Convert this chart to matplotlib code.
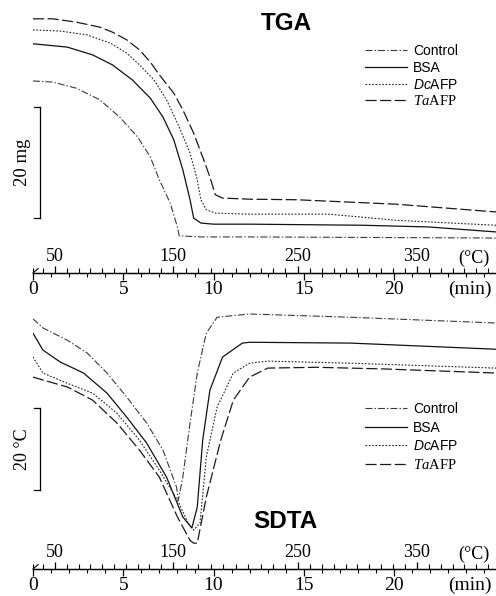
import matplotlib
matplotlib.use('Agg')
import numpy as np
import matplotlib.pyplot as plt
from matplotlib.ticker import FixedLocator, MultipleLocator

plt.rcParams['font.family'] = 'Liberation Serif'
plt.rcParams['mathtext.fontset'] = 'custom'
plt.rcParams['mathtext.it'] = 'Liberation Serif:italic'
plt.rcParams['mathtext.sf'] = 'Liberation Sans:italic'
plt.rcParams['mathtext.rm'] = 'Liberation Serif'
plt.rcParams['lines.scale_dashes'] = False

W, H = 496, 596

# heating programme (time in min -> temperature in degC)
CAL_MIN = [0.0, 1.22, 7.76, 14.68, 21.27, 26.0]
CAL_DEGC = [31.3, 50, 150, 250, 350, 422]
T_END = 25.65  # min at the right edge

# TGA: time (min) and mass (mg above the axis line)
tga_t_control = [0, 1.1, 2.4, 3.7, 4.8, 5.8, 6.5, 7.0, 7.6, 8.0, 8.1, 9.3, 12.0, 25.65]
tga_control = [34.6, 34.4, 33.3, 31.2, 28.1, 24.5, 20.9, 16.8, 12.6, 8.3, 6.7, 6.5, 6.5, 6.3]

tga_t_bsa = [0, 1.9, 3.3, 4.4, 5.5, 6.5, 7.2, 7.8, 8.3, 8.7, 8.9, 9.3, 10.0, 12.0, 18.3, 21.9, 25.65]
tga_bsa = [41.3, 40.7, 39.3, 37.5, 34.8, 31.5, 28.1, 24.0, 18.6, 13.2, 9.9, 9.0, 8.8, 8.8, 8.6, 8.3, 7.4]

tga_t_dc = [0, 1.5, 3.0, 4.3, 5.2, 5.9, 6.7, 7.4, 8.1, 8.7, 9.1, 9.3, 9.6, 10.1, 12.0, 16.4, 20.1, 25.65]
tga_dc = [43.8, 43.6, 42.9, 41.4, 39.6, 37.5, 34.8, 31.2, 26.3, 21.6, 16.8, 13.2, 11.4, 10.8, 10.6, 10.6, 9.5, 8.6]

tga_t_ta = [0, 1.1, 2.4, 3.7, 4.4, 5.2, 5.9, 6.5, 7.0, 7.8, 8.3, 8.9, 9.4, 9.8, 10.1, 10.5, 12.0, 14.6, 20.1, 25.65]
tga_ta = [45.8, 45.8, 45.2, 44.3, 43.4, 42.0, 40.2, 38.0, 35.7, 32.4, 29.4, 25.2, 20.9, 17.3, 14.1, 13.5, 13.3, 13.2, 12.4, 11.0]

# SDTA: time (min) and temperature difference (degC above the axis line)
sdta_t_control = [0, 0.55, 1.9, 3.0, 4.1, 5.2, 6.3, 7.2, 7.95, 8.05, 8.3, 8.7, 9.1, 9.6, 10.2, 12.0, 17.6, 25.65]
sdta_control = [61.0, 58.8, 55.8, 52.7, 47.8, 41.9, 35.6, 29.0, 20.0, 16.8, 22.4, 35.6, 47.8, 57.5, 61.4, 62.2, 61.4, 60.0]

sdta_t_bsa = [0, 0.55, 1.5, 2.8, 4.1, 5.2, 6.3, 7.4, 8.3, 8.8, 9.1, 9.4, 9.8, 10.5, 11.6, 12.0, 17.6, 25.65]
sdta_bsa = [57.5, 53.4, 50.5, 47.8, 42.9, 37.0, 30.7, 22.4, 12.7, 10.0, 15.1, 31.4, 43.6, 51.7, 55.1, 55.3, 55.1, 53.6]

sdta_t_dc = [0, 0.55, 1.9, 3.3, 4.65, 5.9, 7.0, 8.0, 8.6, 8.9, 9.25, 9.6, 10.2, 11.1, 12.0, 13.0, 17.6, 25.65]
sdta_dc = [51.7, 47.8, 45.3, 42.9, 38.0, 31.4, 24.1, 16.8, 11.2, 9.5, 11.2, 27.3, 39.5, 47.8, 50.2, 50.7, 50.2, 49.0]

sdta_t_ta = [0, 1.9, 3.3, 4.65, 5.9, 7.0, 8.0, 8.7, 8.9, 9.1, 9.6, 10.4, 11.1, 12.0, 13.0, 15.7, 19.4, 25.65]
sdta_ta = [46.8, 44.4, 41.2, 35.6, 29.0, 22.4, 12.7, 7.0, 6.3, 6.3, 17.5, 31.4, 41.2, 46.8, 49.0, 49.2, 48.8, 47.8]

labels = ['Control', 'BSA', r'$\mathsf{Dc}$AFP', r'$\mathit{Ta}$AFP']
styles = [
    dict(color='#3a3a3a', lw=0.8, ls=(0, (5, 1.5, 1, 1.5))),
    dict(color='#111111', lw=0.9, ls='-'),
    dict(color='#222222', lw=0.8, ls=(0, (1.2, 1.2))),
    dict(color='#1a1a1a', lw=0.9, ls=(0, (8, 2.5))),
]


def t_to_temp(t):
    return np.interp(t, CAL_MIN, CAL_DEGC)


def temp_to_t(temp):
    return np.interp(temp, CAL_DEGC, CAL_MIN)


def setup_panel(ax, ymin, ymax):
    ax.set_xlim(0, T_END)
    ax.set_ylim(ymin, ymax)
    for side in ['left', 'right', 'top']:
        ax.spines[side].set_visible(False)
    ax.spines['bottom'].set_linewidth(0.9)
    ax.set_yticks([])
    ax.xaxis.set_major_locator(FixedLocator([0, 5, 10, 15, 20]))
    ax.xaxis.set_minor_locator(MultipleLocator(1))
    ax.tick_params(axis='x', which='major', direction='out', length=5, width=0.9,
                   labelsize=14, pad=1)
    ax.tick_params(axis='x', which='minor', direction='out', length=3, width=0.8)
    ax.patch.set_visible(False)

    sec = ax.secondary_xaxis(0.0, functions=(t_to_temp, temp_to_t))
    sec.set_alignment('top')
    sec.xaxis.set_major_locator(FixedLocator([50, 150, 250, 350]))
    sec.xaxis.set_minor_locator(MultipleLocator(10))
    sec.tick_params(axis='x', which='major', direction='out', length=5, width=0.9,
                    labelsize=13, pad=1)
    sec.tick_params(axis='x', which='minor', direction='out', length=3.5, width=0.8)
    sec.spines['top'].set_linewidth(0.9)

    # small slanted mark at the origin of the double axis
    ax.plot([0, 0.28], [0, 0.016], transform=ax.get_xaxis_transform(),
            color='black', lw=0.8, clip_on=False)

    ax.annotate('(°C)', xy=(24.4, 0), xycoords=('data', 'axes fraction'),
                xytext=(0, 10.5), textcoords='offset points',
                ha='center', va='center', fontsize=13)
    ax.annotate('(min)', xy=(24.2, 0), xycoords=('data', 'axes fraction'),
                xytext=(0, -11.5), textcoords='offset points',
                ha='center', va='center', fontsize=14)


def scale_bar(ax, y0, length, text, size):
    xb = 0.39
    ax.plot([xb, xb], [y0, y0 + length], color='black', lw=0.9, clip_on=False)
    ax.plot([0.06, xb], [y0, y0], color='black', lw=0.9, clip_on=False)
    ax.plot([0.06, xb], [y0 + length, y0 + length], color='black', lw=0.9, clip_on=False)
    ax.text(-0.6, y0 + length / 2, text, rotation=90, ha='center', va='center',
            fontsize=size)


def add_legend(ax, handles, top_px, spacing):
    leg = ax.legend(handles=handles, loc='upper left',
                    bbox_to_anchor=(365 / W, 1 - top_px / H),
                    bbox_transform=fig.transFigure, frameon=False, borderpad=0,
                    borderaxespad=0, handlelength=3.0, handletextpad=0.45,
                    labelspacing=spacing,
                    prop={'family': 'Liberation Sans', 'size': 10})
    leg.get_texts()[3].set_fontfamily('Liberation Serif')
    leg.get_texts()[3].set_fontsize(10.5)
    return leg


fig = plt.figure(figsize=(W / 100, H / 100), dpi=100)
fig.patch.set_facecolor('white')

# top panel: TGA
ax1 = fig.add_axes([33 / W, (H - 273) / H, 463 / W, 273 / H])
setup_panel(ax1, 0, 273 / 5.55)
tga = [(tga_t_control, tga_control), (tga_t_bsa, tga_bsa),
       (tga_t_dc, tga_dc), (tga_t_ta, tga_ta)]
handles = []
for (t, y), st, lab in zip(tga, styles, labels):
    h, = ax1.plot(t, y, label=lab, **st)
    handles.append(h)
scale_bar(ax1, 9.9, 20, '20 mg', 13.5)
add_legend(ax1, handles, 44, 0.2)
fig.text(286 / W, 1 - 23 / H, 'TGA', ha='center', va='center', fontsize=17.5,
         fontweight='bold', family='Liberation Sans')

# bottom panel: SDTA
ax2 = fig.add_axes([33 / W, (H - 569) / H, 463 / W, 273 / H])
setup_panel(ax2, 0, 273 / 4.1)
sdta = [(sdta_t_control, sdta_control), (sdta_t_bsa, sdta_bsa),
        (sdta_t_dc, sdta_dc), (sdta_t_ta, sdta_ta)]
handles = []
for (t, y), st, lab in zip(sdta, styles, labels):
    h, = ax2.plot(t, y, label=lab, **st)
    handles.append(h)
scale_bar(ax2, 19.2, 20, '20 °C', 13)
add_legend(ax2, handles, 402, 0.33)
fig.text(285 / W, 1 - 521 / H, 'SDTA', ha='center', va='center', fontsize=17.5,
         fontweight='bold', family='Liberation Sans')

fig.savefig('out.png', dpi=100)
